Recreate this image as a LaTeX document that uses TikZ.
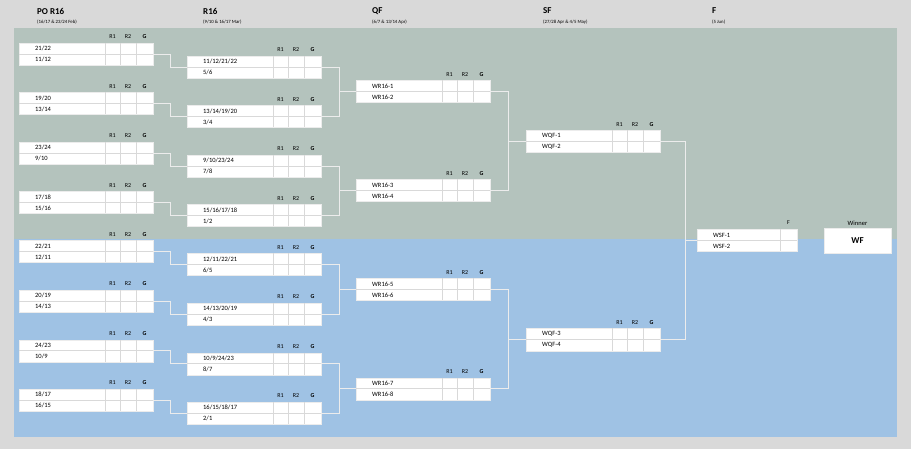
\documentclass[tikz,border=0pt]{standalone}
\usepackage{fontspec}
\setmainfont{Carlito}
\begin{document}
\begin{tikzpicture}[x=1pt,y=-1pt,
 box/.style={draw=white!85!gray,fill=white,anchor=north west,inner sep=0,line width=0.5pt},
 cell/.style={draw=black!15,line width=0.4pt},
 lbl/.style={font=\fontsize{6.5}{7}\selectfont,anchor=west,inner sep=0},
 hd/.style={font=\fontsize{6}{7}\selectfont,inner sep=0},
 conn/.style={draw=white!85!gray,line width=1.3pt},
 title/.style={font=\fontsize{9}{10}\selectfont\bfseries,anchor=west,inner sep=0},
 date/.style={font=\fontsize{4.8}{5}\selectfont,anchor=west,inner sep=0}]
\fill[black!15] (0,0) rectangle (911,449);
\fill[fill={rgb,255:red,180;green,195;blue,189}] (14,28) rectangle (897,239);
\fill[fill={rgb,255:red,159;green,194;blue,228}] (14,239) rectangle (897,437);
\node[title] (t1) at (37,11) {PO R16}; \node[date] (d1) at (37,22) {(16/17 \& 23/24 Feb)};
\node[title] (t2) at (203,11) {R16}; \node[date] (d2) at (203,22) {(9/10 \& 16/17 Mar)};
\node[title] (t3) at (372,11) {QF}; \node[date] (d3) at (372,22) {(6/7 \& 13/14 Apr)};
\node[title] (t4) at (543,11) {SF}; \node[date] (d4) at (543,22) {(27/28 Apr \& 4/5 May)};
\node[title] (t5) at (712,11) {F}; \node[date] (d5) at (712,22) {(5 Jun)};
% generic game: #1 name, #2 x, #3 top, #4 label1, #5 label2
\newcommand\gm[5]{%
 \node[box,minimum width=134,minimum height=22] (#1) at (#2,#3) {};
 \draw[cell] (#2,#3+11) -- (#2+134,#3+11);
 \foreach \c in {86,101,117} {\draw[cell] (#2+\c,#3) -- (#2+\c,#3+22);}
 \node[hd] (#1r1) at (#2+93.5,#3-6) {R1};
 \node[hd] (#1r2) at (#2+109,#3-6) {R2};
 \node[hd,font=\fontsize{6}{7}\selectfont\bfseries] (#1g) at (#2+125.5,#3-6) {G};
 \node[lbl] (#1a) at (#2+16,#3+5.5) {#4};
 \node[lbl] (#1b) at (#2+16,#3+16.5) {#5};}
\gm{p1}{19}{43}{21/22}{11/12}
\gm{p2}{19}{92.5}{19/20}{13/14}
\gm{p3}{19}{142}{23/24}{9/10}
\gm{p4}{19}{191.5}{17/18}{15/16}
\gm{p5}{19}{240.5}{22/21}{12/11}
\gm{p6}{19}{290}{20/19}{14/13}
\gm{p7}{19}{339.5}{24/23}{10/9}
\gm{p8}{19}{389}{18/17}{16/15}
\gm{r1}{187}{56}{11/12/21/22}{5/6}
\gm{r2}{187}{105.5}{13/14/19/20}{3/4}
\gm{r3}{187}{155}{9/10/23/24}{7/8}
\gm{r4}{187}{204.5}{15/16/17/18}{1/2}
\gm{r5}{187}{253.5}{12/11/22/21}{6/5}
\gm{r6}{187}{303}{14/13/20/19}{4/3}
\gm{r7}{187}{352.5}{10/9/24/23}{8/7}
\gm{r8}{187}{402}{16/15/18/17}{2/1}
\gm{q1}{356}{80.5}{WR16-1}{WR16-2}
\gm{q2}{356}{179.5}{WR16-3}{WR16-4}
\gm{q3}{356}{278.5}{WR16-5}{WR16-6}
\gm{q4}{356}{377.5}{WR16-7}{WR16-8}
\gm{s1}{526}{130.5}{WQF-1}{WQF-2}
\gm{s2}{526}{328.5}{WQF-3}{WQF-4}
% final
\node[box,minimum width=100,minimum height=22] (f) at (697,229.5) {};
\draw[cell] (697,240.5) -- (797,240.5);
\draw[cell] (780,229.5) -- (780,251.5);
\node[hd] (fh) at (788.5,223) {F};
\node[lbl] (fa) at (713,235) {WSF-1};
\node[lbl] (fb) at (713,246.5) {WSF-2};
\node[box,minimum width=67,minimum height=25,font=\fontsize{9}{10}\selectfont\bfseries,anchor=center] (w) at (857.5,240.5) {WF};
\node[hd,font=\fontsize{6.5}{7}\selectfont] (wh) at (857.5,223) {Winner};
% connectors
\foreach \i in {1,...,8} {\draw[conn] (p\i.east) -- +(17,0) |- (r\i.west);}
\foreach \a/\b/\c in {r1/r2/q1,r3/r4/q2,r5/r6/q3,r7/r8/q4} {
 \draw[conn] (\a.east) -- +(18,0) |- (\c.west);
 \draw[conn] (\b.east) -- +(18,0) |- (\c.west);}
\foreach \a/\b/\c in {q1/q2/s1,q3/q4/s2} {
 \draw[conn] (\a.east) -- +(18,0) |- (\c.west);
 \draw[conn] (\b.east) -- +(18,0) |- (\c.west);}
\draw[conn] (s1.east) -- +(25,0) |- (f.west);
\draw[conn] (s2.east) -- +(25,0) |- (f.west);
\end{tikzpicture}
\end{document}
